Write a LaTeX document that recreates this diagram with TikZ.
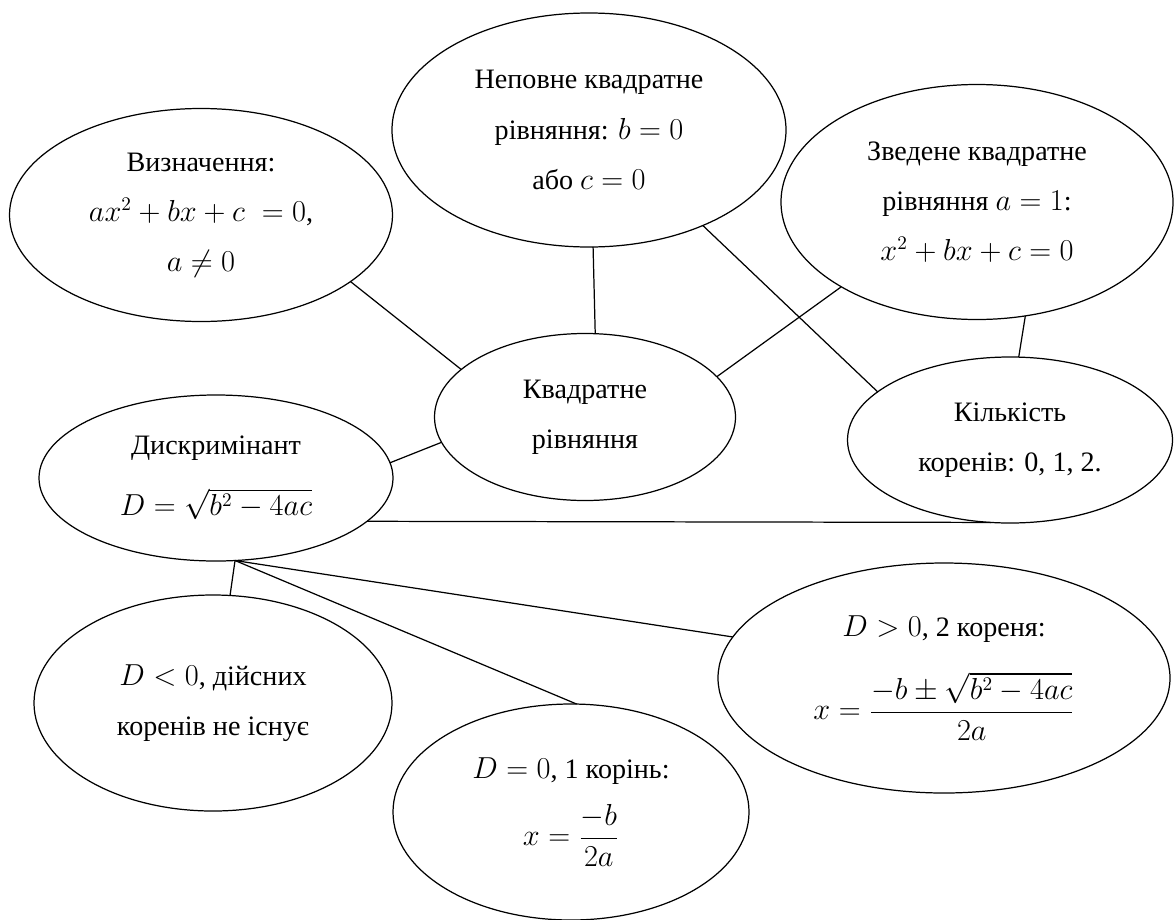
\documentclass[tikz,border=0pt]{standalone}
\usepackage{amsmath, amssymb}
\usepackage{fontspec}
\setmainfont{Liberation Serif}
\usepackage{tikz}
\usetikzlibrary{arrows.meta, positioning, shapes.geometric}

\begin{document}
\begin{tikzpicture}[x=0.2mm, y=-0.2mm, line width=0.7pt,
    bubble/.style={draw, ellipse, inner sep=0pt, outer sep=0pt, align=center,
        font=\fontsize{16}{28.5}\selectfont}]
        \useasboundingbox (0,0) rectangle (1174,919);
        % top row
        \node[bubble, minimum width=76.6mm, minimum height=42.6mm] (def) at (201,215)
            {Визначення:\\$ax^2+bx+c\;=0$,\\$a\neq 0$};
        \node[bubble, minimum width=78.8mm, minimum height=46.8mm] (nep) at (589,130)
            {Неповне квадратне\\рівняння: $b=0$\\або $c=0$};
        \node[bubble, minimum width=78.4mm, minimum height=47mm] (zved) at (977,202)
            {Зведене квадратне\\рівняння $a=1$:\\$x^2+bx+c=0$};
        % middle row
        \node[bubble, minimum width=60.2mm, minimum height=33.4mm] (kv) at (585,417)
            {Квадратне\\рівняння};
        \node[bubble, minimum width=65mm, minimum height=33.2mm] (kil) at (1010,440)
            {Кількість\\коренів: 0, 1, 2.};
        \node[bubble, minimum width=70.8mm, minimum height=33.2mm] (disk) at (216,478)
            {Дискримінант\\[6pt]$D=\sqrt{b^2-4ac}$};
        % roots
        \node[bubble, minimum width=71.6mm, minimum height=43.2mm] (neg) at (213,703)
            {$D<0$, дійсних\\коренів не існує};
        \node[bubble, minimum width=71.2mm, minimum height=43.2mm] (zero) at (571,812)
            {$D=0$, 1 корінь:\\[10pt]$x=\dfrac{-b}{2a}$};
        \node[bubble, minimum width=90.4mm, minimum height=46mm] (pos) at (944,678)
            {$D>0$, 2 кореня:\\[16pt]$x=\dfrac{-b\pm\sqrt{b^2-4ac}}{2a}$};

        % connectors
        \draw (def.-24.1) -- (kv.159.5);
        \draw (nep.-88.5) -- (kv.83.9);
        \draw (nep.-40.9) -- (kil.160.8);
        \draw (zved.-148.4) -- (kv.17.5);
        \draw (zved.-67.1) -- (kil.84);
        \draw (disk.5.3) -- (kv.-170.6);
        \draw (disk.-16.6) -- (kil.-103.5);
        \coordinate (dbot) at (disk.-77.3);
        \draw (dbot) -- (neg.81.1);
        \draw (dbot) -- (zero.87.3);
        \draw (dbot) -- (pos.169.4);
    \end{tikzpicture}
\end{document}
